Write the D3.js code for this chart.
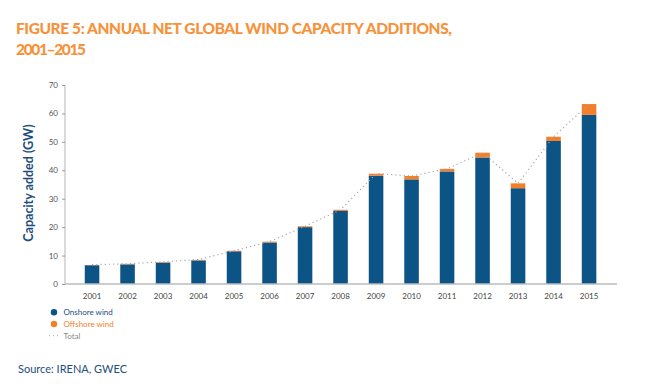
<!DOCTYPE html>
<html><head><meta charset="utf-8">
<script src="https://cdn.jsdelivr.net/npm/d3@7"></script>
<style>body{margin:0;background:#fff}svg{display:block}</style>
</head><body>
<script>
const years = ["2001","2002","2003","2004","2005","2006","2007","2008","2009","2010","2011","2012","2013","2014","2015"];
const onshore = [6.6,6.9,7.5,8.3,11.5,14.6,20.0,25.7,38.1,36.8,39.6,44.5,33.7,50.3,59.5];
const offshore = [0.1,0.2,0.2,0.2,0.2,0.3,0.3,0.4,0.7,1.2,0.9,1.7,1.7,1.5,3.8];
const total = [6.8,7.1,7.8,8.6,11.7,14.9,20.3,26.1,38.8,38.0,40.5,46.2,35.4,51.8,63.3];
const yTicks = [0,10,20,30,40,50,60,70];
const titleLines = ["FIGURE 5: ANNUAL NET GLOBAL WIND CAPACITY ADDITIONS,","2001–2015"];
const legendItems = ["Onshore wind","Offshore wind","Total"];

const W=648,H=392;
const navy="#0c5386", orange="#f37f2b", titleOrange="#f7923b";
const svg=d3.select("body").append("svg").attr("width",W).attr("height",H);

// title
svg.append("text").attr("x",16).attr("y",33.5).attr("fill",titleOrange)
  .attr("font-family","Lato").attr("font-weight",900).attr("font-size",15.5)
  .attr("textLength",436).attr("lengthAdjust","spacing").text(titleLines[0]);
svg.append("text").attr("x",16).attr("y",54.5).attr("fill",titleOrange)
  .attr("font-family","Lato").attr("font-weight",900).attr("font-size",15.5)
  .attr("textLength",70).attr("lengthAdjust","spacing").text(titleLines[1]);

const x=d3.scaleBand().domain(years).range([74.3,606.8]).paddingInner(0.59).paddingOuter(0.295);
const y=d3.scaleLinear().domain([0,70]).range([284,85]);

// y axis
const ya=svg.append("g").attr("transform","translate(65,0)")
  .call(d3.axisLeft(y).tickValues(yTicks).tickSize(3).tickPadding(4));
ya.select(".domain").attr("stroke","#b5b5b5").attr("d","M0,85V284");
ya.selectAll(".tick line").attr("stroke","#999");
ya.selectAll("text").attr("font-family","Lato").attr("font-size",8).attr("fill","#555");

// bars
const g=svg.append("g");
g.selectAll(".on").data(years).join("rect")
  .attr("x",d=>x(d)).attr("width",x.bandwidth())
  .attr("y",(d,i)=>y(onshore[i])).attr("height",(d,i)=>y(0)-y(onshore[i])).attr("fill",navy);
g.selectAll(".off").data(years).join("rect")
  .attr("x",d=>x(d)).attr("width",x.bandwidth())
  .attr("y",(d,i)=>y(onshore[i]+offshore[i])).attr("height",(d,i)=>y(onshore[i])-y(onshore[i]+offshore[i])).attr("fill",orange);

// x axis
const xa=svg.append("g").attr("transform","translate(0,284)")
  .call(d3.axisBottom(x).tickSize(0).tickPadding(9));
xa.select(".domain").attr("stroke","#bbb").attr("stroke-width",1.5).attr("d","M65,0H617");
xa.selectAll("text").attr("font-family","Lato").attr("font-size",8).attr("fill","#444");

// total line
const line=d3.line().x((d,i)=>x(years[i])+x.bandwidth()/2).y(d=>y(d));
svg.append("path").datum(total).attr("d",line).attr("fill","none")
  .attr("stroke","#a8a8a8").attr("stroke-width",1.2).attr("stroke-dasharray","1.2,3");

// y label
svg.append("text").attr("transform","translate(33,183) rotate(-90)").attr("text-anchor","middle")
  .attr("font-family","Lato").attr("font-weight",700).attr("font-size",12.5).attr("fill","#1b4e7e")
  .text("Capacity added (GW)");

// legend
const lg=svg.append("g");
const lcols=[navy,orange,"#999"];
legendItems.forEach((t,i)=>{
  const cy=312.3+i*11.7;
  if(i<2) lg.append("circle").attr("cx",54).attr("cy",cy).attr("r",3.2).attr("fill",lcols[i]);
  else lg.append("line").attr("x1",49).attr("x2",59).attr("y1",cy).attr("y2",cy)
      .attr("stroke","#aaa").attr("stroke-width",1).attr("stroke-dasharray","1,3");
  lg.append("text").attr("x",63.5).attr("y",cy+2.8).attr("font-family","Lato").attr("font-size",8)
    .attr("fill",i==0?"#1b4e7e":(i==1?orange:"#888")).text(t);
});

// source
svg.append("text").attr("x",18).attr("y",373).attr("font-family","Lato").attr("font-size",11)
  .attr("fill","#1b4e7e").text("Source: IRENA, GWEC");
</script>
</body></html>
